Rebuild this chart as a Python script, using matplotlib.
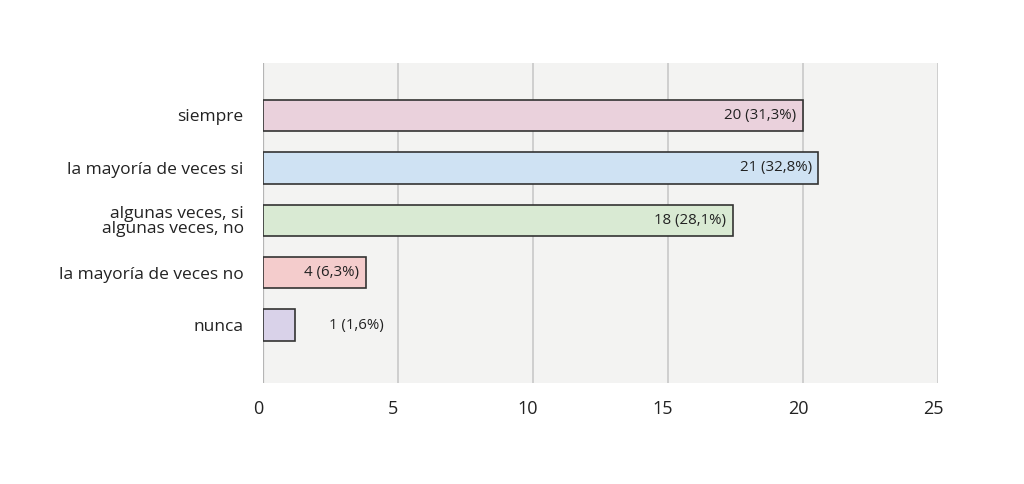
import matplotlib.pyplot as plt
import matplotlib.transforms as mtransforms

# categories top to bottom
categories = [
    "siempre",
    "la mayoría de veces si",
    "algunas veces, si\nalgunas veces, no",
    "la mayoría de veces no",
    "nunca",
]
counts = [20, 21, 18, 4, 1]
percents = ["31,3%", "32,8%", "28,1%", "6,3%", "1,6%"]
# bar lengths as drawn in the reference chart
bar_lengths = [20.0, 20.57, 17.4, 3.8, 1.19]
colors = ["#ead1dc", "#cfe2f3", "#d9ead3", "#f4cccc", "#d9d2e9"]
x_ticks = [0, 5, 10, 15, 20, 25]


def main():
    plt.rcParams["font.family"] = ["Open Sans", "DejaVu Sans"]

    fig = plt.figure(figsize=(10.24, 4.84), dpi=100)
    ax = fig.add_axes([0.257, 0.209, 0.659, 0.661])
    ax.set_facecolor("#f3f3f2")

    ypos = list(range(len(categories)))
    ax.barh(ypos, bar_lengths, height=0.6, color=colors,
            edgecolor="#333333", linewidth=1.2, zorder=3)

    for y, length, n, p in zip(ypos, bar_lengths, counts, percents):
        label = f"{n} ({p})"
        if length > 3:
            ax.text(length - 0.25, y, label, ha="right", va="center",
                    fontsize=10.8, color="#222222", zorder=4)
        else:
            ax.text(length + 1.25, y, label, ha="left", va="center",
                    fontsize=10.8, color="#222222", zorder=4)

    ax.set_xlim(0, 25)
    ax.set_ylim(len(categories) - 1 + 1.1, -1.0)
    ax.set_xticks(x_ticks)
    ax.set_xticklabels([str(t) for t in x_ticks], fontsize=13, color="#222222")
    ax.set_yticks(ypos)
    ax.set_yticklabels(categories, fontsize=12.5, color="#222222",
                       linespacing=0.9)
    ax.tick_params(axis="both", length=0)
    ax.tick_params(axis="y", pad=14)
    ax.tick_params(axis="x", pad=12)

    # tick labels in the reference sit a little left of their gridlines
    shift = mtransforms.ScaledTranslation(-5 / 100, 0, fig.dpi_scale_trans)
    for lbl in ax.get_xticklabels():
        lbl.set_transform(lbl.get_transform() + shift)

    ax.grid(axis="x", color="#cccccc", linewidth=1.3, zorder=1)
    ax.axvline(0, color="#b5b5b5", linewidth=1.6, zorder=2)
    for s in ax.spines.values():
        s.set_visible(False)

    fig.savefig("out.png", dpi=100)


if __name__ == "__main__":
    main()
